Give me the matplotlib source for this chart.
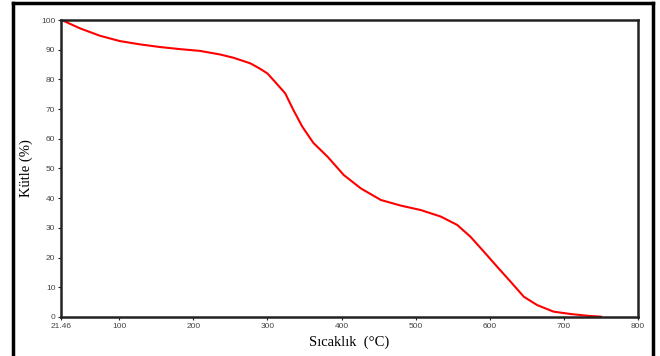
import matplotlib
matplotlib.use("Agg")
import matplotlib.pyplot as plt
from matplotlib.lines import Line2D

# TGA curve
temp = [21.46, 25, 47, 74, 101, 128, 155, 182, 209, 236, 254, 277, 290, 300,
        308, 324, 335, 347, 362, 381, 403, 426, 453, 480, 507, 534, 556, 574,
        592, 610, 628, 646, 664, 686, 709, 732, 750]
mass = [100, 99.7, 97.2, 94.7, 92.9, 91.8, 90.9, 90.2, 89.6, 88.4, 87.3, 85.4,
        83.6, 82.0, 79.8, 75.3, 69.7, 64.1, 58.6, 54.0, 47.8, 43.3, 39.4, 37.5,
        36.0, 33.8, 31.0, 27.0, 22.0, 16.9, 11.9, 6.8, 4.0, 1.8, 1.0, 0.4, 0.1]

xticks = [21.46, 100, 200, 300, 400, 500, 600, 700, 800]
xlabels = ["21.46", "100", "200", "300", "400", "500", "600", "700", "800"]
yticks = list(range(0, 101, 10))

fig = plt.figure(figsize=(6.6, 3.56), dpi=100)
ax = fig.add_axes([0.0924, 0.1096, 0.8743, 0.8342])

ax.plot(temp, mass, color="#ff0000", lw=1.5, solid_joinstyle="round")
ax.set_xlim(21.46, 800)
ax.set_ylim(0, 100)
ax.set_xticks(xticks)
ax.set_xticklabels(xlabels)
ax.set_yticks(yticks)
ax.tick_params(labelsize=6, labelcolor="#444444", length=2, width=0.8,
               direction="out", pad=2, color="#222222")
for tl in ax.get_xticklabels() + ax.get_yticklabels():
    tl.set_family("Liberation Sans")
for s in ax.spines.values():
    s.set_linewidth(1.8)
    s.set_color("#222222")

ax.set_xlabel("Sıcaklık  (°C)", family="Liberation Serif", fontsize=10.5, labelpad=4)
ax.set_ylabel("Kütle (%)", family="Liberation Serif", fontsize=10.5, labelpad=6)

# outer frame around the picture
fr = dict(color="black", lw=2.5, transform=fig.transFigure)
fig.add_artist(Line2D([0.0197, 0.0197], [0, 0.9916], **fr))
fig.add_artist(Line2D([0.0197, 0.989], [0.9916, 0.9916], **fr))
fig.add_artist(Line2D([0.989, 0.989], [0, 0.9916], **fr))

fig.savefig("out.png", dpi=100)
